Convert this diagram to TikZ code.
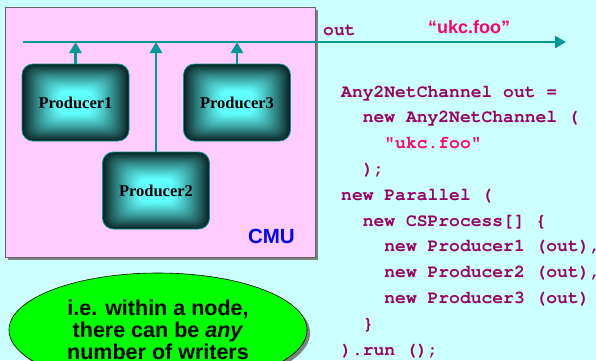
\documentclass[tikz,border=0pt]{standalone}
\usepackage[T1,TU]{fontenc}
\usepackage{fontspec}
\usetikzlibrary{arrows.meta,shapes.geometric,shadows}
\newfontfamily\labelsans{Liberation Sans}
\newfontfamily\labelserif{Liberation Serif}
% Courier bold for the code listing
\newcommand\codefont{\fontencoding{T1}\fontfamily{pcr}\fontseries{b}\fontshape{n}}
\definecolor{sky}{HTML}{CCFFFF}
\definecolor{pinkbg}{HTML}{FFCCFF}
\definecolor{chancol}{HTML}{009999}
\definecolor{codecol}{HTML}{990066}
\definecolor{strcol}{HTML}{FF0066}
\definecolor{glowin}{HTML}{62FFFF}
\definecolor{glowout}{HTML}{081E1E}
\definecolor{cmublue}{HTML}{0000FF}
\definecolor{greenfill}{HTML}{00FF00}
\definecolor{shadowgray}{HTML}{808080}

\tikzset{
  chanline/.style={draw=chancol, line width=2.5pt},
  chanarrow/.style={chanline, -{Triangle[length=11pt,width=12pt]}},
  prod/.style={rounded corners=11pt, minimum width=107pt, minimum height=77pt,
    draw=chancol, line width=0.8pt, inner sep=0pt,
    font=\labelserif\bfseries\fontsize{16.5}{18}\selectfont,
    path picture={
      \foreach \k in {0,...,24}{
        \pgfmathsetmacro\mix{100*(\k/24)^0.85}
        \fill[glowin!\mix!glowout, rounded corners=9pt]
          ([shift={(\k*1.5pt,\k*1.1pt)}]path picture bounding box.south west)
          rectangle
          ([shift={(-\k*1.5pt,-\k*1.1pt)}]path picture bounding box.north east);
      }
    }},
  codeline/.style={anchor=base west, inner sep=0pt, text=codecol,
    font=\codefont\fontsize{18}{20}\selectfont},
}

\begin{document}
\begin{tikzpicture}[x=1pt,y=-1pt]
  % page and background
  \useasboundingbox (0,0) rectangle (596,360);
  \fill[sky] (0,0) rectangle (596,360);

  % the CMU node with its shadow
  \fill[shadowgray] (8,10) rectangle (318,260);
  \draw[fill=pinkbg, draw=black!60, line width=0.6pt] (5,7) rectangle (315,257);
  \node[anchor=base east, inner sep=0pt, text=cmublue,
        font=\labelsans\bfseries\fontsize{20.5}{22}\selectfont] (cmu) at (295,243) {CMU};

  % the three writer processes
  \node[prod] (p1) at (75.5,102.5) {Producer1};
  \node[prod] (p3) at (237,102.5) {Producer3};
  \node[prod] (p2) at (156,190.5) {Producer2};

  % the shared output channel
  \coordinate (busL) at (23,42);
  \coordinate (busR) at (566,42);
  \draw[chanarrow] (busL) -- (busR);
  \draw[chanarrow] (p1.north) -- (p1.north |- busL);
  \draw[chanarrow] (p2.north) -- (p2.north |- busL);
  \draw[chanarrow] (p3.north) -- (p3.north |- busL);

  % channel labels
  \node[codeline] (outlbl) at (323,35) {out};
  \node[anchor=base west, inner sep=0pt, text=strcol,
        font=\labelsans\bfseries\fontsize{18}{20}\selectfont] (namelbl) at (428,33) {“ukc.foo”};

  % the code that builds it
  \node[codeline] (c1) at (341,97) {Any2NetChannel out =};
  \node[codeline] (c2) at (362.6,122.8) {new Any2NetChannel (};
  \node[codeline, text=strcol] (c3) at (384.2,148.6) {\textquotedbl ukc.foo\textquotedbl};
  \node[codeline] (c4) at (362.6,174.4) {);};
  \node[codeline] (c5) at (341,200.2) {new Parallel (};
  \node[codeline] (c6) at (362.6,226) {new CSProcess[] \{};
  \node[codeline] (c7) at (384.2,251.8) {new Producer1 (out),};
  \node[codeline] (c8) at (384.2,277.6) {new Producer2 (out),};
  \node[codeline] (c9) at (384.2,303.4) {new Producer3 (out)};
  \node[codeline] (c10) at (362.6,329.2) {\}};
  \node[codeline] (c11) at (341,355) {).run ();};

  % the note
  \node[ellipse, minimum width=298pt, minimum height=114pt, inner sep=0pt,
        fill=greenfill, draw=black, line width=0.6pt, align=center,
        drop shadow={shadow xshift=3pt, shadow yshift=-3pt, fill=shadowgray, opacity=1},
        font=\labelsans\bfseries\fontsize{21.5}{22}\selectfont] (note) at (158,330)
    {i.e. within a node,\\there can be \textit{any}\\number of writers};
\end{tikzpicture}
\end{document}
